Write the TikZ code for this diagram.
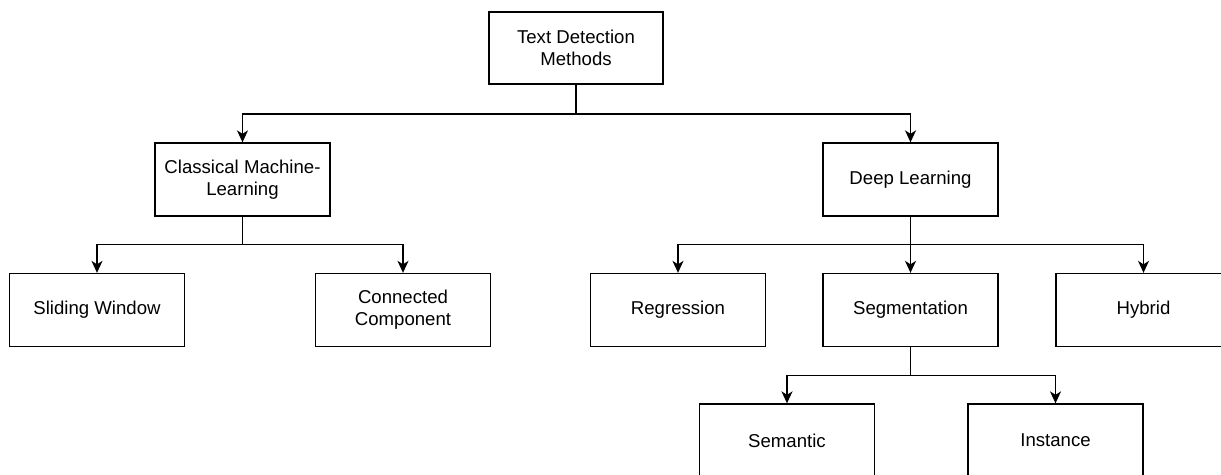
\documentclass[tikz,border=0pt]{standalone}
\usepackage{fontspec}
\setmainfont{Liberation Sans}
\usepackage{tikz}
\usetikzlibrary{arrows.meta}
\tikzset{
  box/.style={draw, line width=1.3pt, minimum width=175pt, minimum height=73pt,
      align=center, inner sep=2pt, font=\fontsize{18.6}{22}\selectfont},
  link/.style={line width=1.5pt, -{Stealth[length=12pt, width=11pt, inset=3.5pt]}},
}

\begin{document}
\begin{tikzpicture}[x=1pt, y=-1pt]
  \useasboundingbox (0,0) rectangle (1221,474);
  \clip (0,0) rectangle (1221,474);
  \node[box, minimum width=174pt, minimum height=72pt] (root) at (576,48) {Text Detection\\Methods};
  \node[box] (cml) at (242.5,179.5) {Classical Machine-\\Learning};
  \node[box] (dl) at (910.5,179.5) {Deep Learning};
  \node[box] (sw) at (97,310) {Sliding Window};
  \node[box] (cc) at (403,310) {Connected\\Component};
  \node[box] (reg) at (678,310) {Regression};
  \node[box] (seg) at (910.5,310) {Segmentation};
  \node[box] (hyb) at (1143.5,310) {Hybrid};
  \node[box] (sem) at (787,440.5) {Semantic};
  \node[box] (ins) at (1055.5,440.5) {Instance};
  % tree links
  \draw[link] (root.south) -- ++(0,29.5) -| (cml.north);
  \draw[link] (root.south) -- ++(0,29.5) -| (dl.north);
  \draw[link] (cml.south) -- ++(0,28) -| (sw.north);
  \draw[link] (cml.south) -- ++(0,28) -| (cc.north);
  \draw[link] (dl.south) -- ++(0,28) -| (reg.north);
  \draw[link] (dl.south) -- (seg.north);
  \draw[link] (dl.south) -- ++(0,28) -| (hyb.north);
  \draw[link] (seg.south) -- ++(0,28.5) -| (sem.north);
  \draw[link] (seg.south) -- ++(0,28.5) -| (ins.north);
\end{tikzpicture}
\end{document}
